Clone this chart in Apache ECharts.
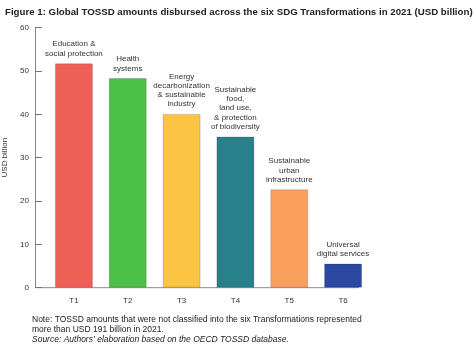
<!DOCTYPE html>
<html><head><meta charset="utf-8">
<script src="https://cdn.jsdelivr.net/npm/echarts@6/dist/echarts.min.js"></script>
<style>html,body{margin:0;padding:0;background:#fff}#c{width:474px;height:356px}</style>
</head><body><div id="c"></div>
<script>
const categories = ['T1','T2','T3','T4','T5','T6'];
const values = [51.8, 48.4, 40.1, 34.9, 22.7, 5.6];
const barLabels = [
  'Education &\nsocial protection',
  'Health\nsystems',
  'Energy\ndecarbonization\n& sustainable\nindustry',
  'Sustainable\nfood,\nland use,\n& protection\nof biodiversity',
  'Sustainable\nurban\ninfrastructure',
  'Universal\ndigital services'
];
const barColors = ['#EE5F55','#4CBF47','#FBC443','#28808A','#F9A05E','#2B47A0'];
const yTicks = [0,10,20,30,40,50,60];
const titleText = 'Figure 1: Global TOSSD amounts disbursed across the six SDG Transformations in 2021 (USD billion)';
const noteLines = [
  'Note: TOSSD amounts that were not classified into the six Transformations represented',
  'more than USD 191 billion in 2021.'
];
const sourceText = 'Source: Authors\u2019 elaboration based on the OECD TOSSD database.';

const FONT = '"Liberation Sans", Arial, sans-serif';
const chart = echarts.init(document.getElementById('c'), null, {renderer:'canvas'});
chart.setOption({
  animation: false,
  textStyle: {fontFamily: FONT},
  title: {
    text: titleText, left: 0, top: 2.5,
    textStyle: {fontFamily: FONT, fontSize: 9.7, fontWeight: 'bold', color: '#222'}
  },
  grid: {left: 47, right: 104, top: 27.7, bottom: 68.3, containLabel: false, outerBoundsMode: 'none'},
  xAxis: {
    type: 'category', data: categories,
    axisLine: {show: false}, axisTick: {show: false},
    axisLabel: {color: '#333', fontSize: 8, margin: 9}
  },
  yAxis: {
    type: 'value', min: yTicks[0], max: yTicks[yTicks.length-1], interval: 10,
    offset: 12,
    name: 'USD billion', nameLocation: 'middle', nameGap: 20,
    nameTextStyle: {color: '#333', fontSize: 8},
    axisLine: {show: true, lineStyle: {color: '#888', width: 1}},
    axisTick: {show: true, inside: true, length: 7, lineStyle: {color: '#777'}},
    axisLabel: {color: '#333', fontSize: 8, margin: 6},
    splitLine: {show: false}
  },
  series: [{
    type: 'bar', barWidth: 38,
    data: values.map((v,i)=>({value: v, itemStyle: {color: barColors[i], borderColor: 'rgba(0,0,0,0.15)', borderWidth: 1}})),
    label: {
      show: true, position: 'top', distance: 5,
      formatter: p => barLabels[p.dataIndex],
      color: '#333', fontSize: 8, lineHeight: 9.3, align: 'center'
    }
  }],
  graphic: [
    {type: 'line', shape: {x1: 35, y1: 287.7, x2: 359, y2: 287.7}, style: {stroke: '#888', lineWidth: 1}},
    {type: 'text', left: 32, top: 314.5, style: {text: noteLines.join('\n'), font: '8.5px ' + FONT, fill: '#222', lineHeight: 10.4}},
    {type: 'text', left: 32, top: 335.3, style: {text: sourceText, font: 'italic 8.5px ' + FONT, fill: '#222'}}
  ]
});
</script></body></html>
